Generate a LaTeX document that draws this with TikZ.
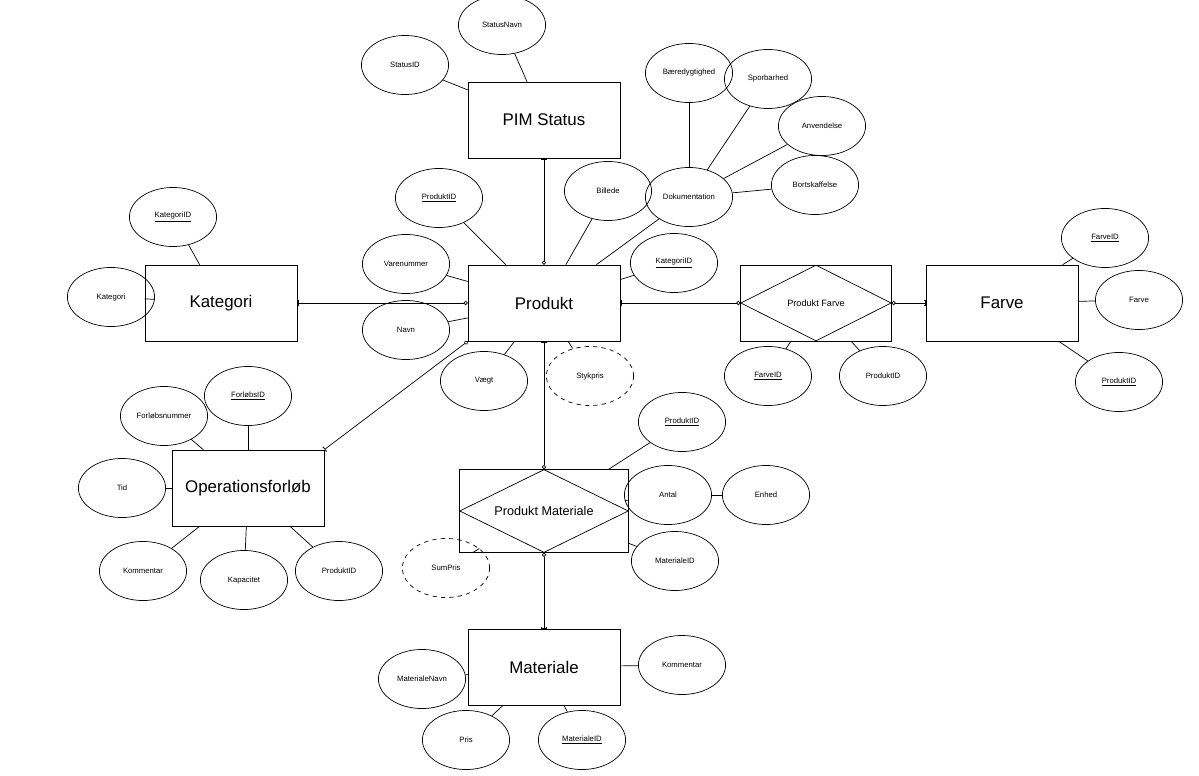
\documentclass[tikz,border=0pt]{standalone}
\usepackage{fontspec}
\setmainfont{Liberation Sans}
\usetikzlibrary{shapes.geometric,arrows.meta}
\tikzset{
  ent/.style={rectangle, draw, minimum width=108, minimum height=54, font=\fontsize{12}{14}\selectfont},
  att/.style={ellipse, draw, minimum width=62, minimum height=42, inner sep=0pt, font=\fontsize{5.5}{6}\selectfont},
  der/.style={att, dashed},
  one/.tip={Bar[width=4pt,length=1pt]},
  many/.tip={Circle[open,length=3pt]},
}
\begin{document}
\begin{tikzpicture}[x=0.025cm, y=-0.025cm, line width=0.5pt]
  \useasboundingbox (0,0) rectangle (1199,776);
  % Entities
  \node (PIM) [ent] at (544,120) {PIM Status};
  \node (PROD) [ent] at (544,303) {Produkt};
  \node (KAT) [ent] at (221,303) {Kategori};
  \node (FARVE) [ent] at (1002,303) {Farve};
  \node (OP) [ent] at (248,488) {Operationsforløb};
  \node (MAT) [ent] at (544,667) {Materiale};
  \node (PF) [rectangle, draw, minimum width=107, minimum height=54] at (816,303) {};
  \node (PFd) [diamond, draw, aspect=2, minimum width=107, minimum height=54, inner sep=0pt, font=\fontsize{6.5}{7}\selectfont] at (PF) {Produkt Farve};
  \node (PM) [rectangle, draw, minimum width=120, minimum height=59] at (544,511) {};
  \node (PMd) [diamond, draw, aspect=2, minimum width=120, minimum height=59, inner sep=0pt, font=\fontsize{9}{10}\selectfont] at (PM) {Produkt Materiale};
  % Attributes
  \node (STATUSNAVN) [att] at (502,25) {StatusNavn};
  \node (STATUSID) [att] at (405,65) {StatusID};
  \node (BAER) [att] at (689,73) {Bæredygtighed};
  \node (SPOR) [att] at (768,79) {Sporbarhed};
  \node (ANV) [att] at (822,126) {Anvendelse};
  \node (BORT) [att] at (815,185) {Bortskaffelse};
  \node (DOK) [att] at (689,197) {Dokumentation};
  \node (BILLEDE) [att] at (608,191) {Billede};
  \node (P-PID) [att] at (439,198) {\underline{ProduktID}};
  \node (K-KID) [att] at (173,217) {\underline{KategoriID}};
  \node (K-KAT) [att] at (111,297) {Kategori};
  \node (VARENR) [att] at (406,264) {Varenummer};
  \node (P-KID) [att] at (674,263) {\underline{KategoriID}};
  \node (NAVN) [att] at (406,330) {Navn};
  \node (VAEGT) [att] at (484,381) {Vægt};
  \node (STYK) [der] at (590,376) {Stykpris};
  \node (F-FID) [att] at (1105,238) {\underline{FarveID}};
  \node (F-FARVE) [att] at (1139,300) {Farve};
  \node (F-PID) [att] at (1119,382) {\underline{ProduktID}};
  \node (PF-FID) [att] at (768,376) {\underline{FarveID}};
  \node (PF-PID) [att] at (883,376) {ProduktID};
  \node (O-FID) [att] at (248,396) {\underline{ForløbsID}};
  \node (O-FNR) [att] at (164,416) {Forløbsnummer};
  \node (O-TID) [att] at (122,488) {Tid};
  \node (O-KOM) [att] at (143,571) {Kommentar};
  \node (O-KAP) [att] at (244,580) {Kapacitet};
  \node (O-PID) [att] at (339,571) {ProduktID};
  \node (PM-PID) [att] at (682,422) {\underline{ProduktID}};
  \node (ANTAL) [att] at (668,495) {Antal};
  \node (ENHED) [att] at (766,495) {Enhed};
  \node (PM-MID) [att] at (675,561) {MaterialeID};
  \node (SUM) [der] at (446,568) {SumPris};
  \node (M-NAVN) [att] at (422,679) {MaterialeNavn};
  \node (M-KOM) [att] at (682,665) {Kommentar};
  \node (M-PRIS) [att] at (466,740) {Pris};
  \node (M-MID) [att] at (582,740) {\underline{MaterialeID}};
  % Relations
  \draw[one-many] (PIM) -- (PROD);
  \draw[one-many] (KAT) -- (PROD);
  \draw[one-many] (PROD) -- (PF);
  \draw[many-one] (PF) -- (FARVE);
  \draw[many-one] (PROD.south west) -- (OP.north east);
  \draw[one-many] (PROD) -- (PM);
  \draw[many-one] (PM) -- (MAT);
  % Attribute lines
  \foreach \a in {STATUSNAVN, STATUSID} \draw (\a) -- (PIM);
  \foreach \a in {BAER, SPOR, ANV, BORT} \draw (\a) -- (DOK);
  \foreach \a in {DOK, BILLEDE, P-PID, VARENR, P-KID, NAVN, VAEGT, STYK} \draw (\a) -- (PROD);
  \foreach \a in {K-KID, K-KAT} \draw (\a) -- (KAT);
  \foreach \a in {F-FID, F-FARVE, F-PID} \draw (\a) -- (FARVE);
  \foreach \a in {PF-FID, PF-PID} \draw (\a) -- (PF);
  \foreach \a in {O-FID, O-FNR, O-TID, O-KOM, O-KAP, O-PID} \draw (\a) -- (OP);
  \foreach \a in {PM-PID, ANTAL, PM-MID, SUM} \draw (\a) -- (PM);
  \draw (ANTAL) -- (ENHED);
  \foreach \a in {M-NAVN, M-KOM, M-PRIS, M-MID} \draw (\a) -- (MAT);
\end{tikzpicture}
\end{document}
